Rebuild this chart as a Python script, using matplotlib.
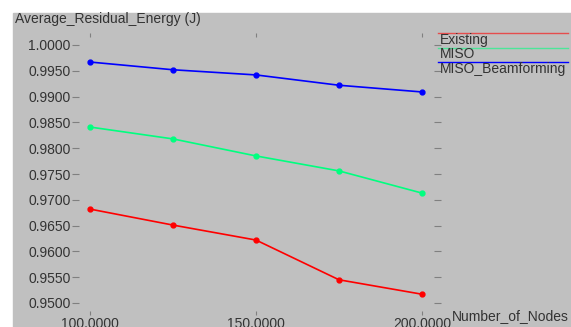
import matplotlib.pyplot as plt
from matplotlib.patches import Rectangle

plt.rcParams['font.family'] = ['Liberation Sans', 'DejaVu Sans']

nodes = [100, 125, 150, 175, 200]
existing = [0.9682, 0.9651, 0.9622, 0.9545, 0.9517]
miso = [0.9841, 0.9818, 0.9785, 0.9756, 0.9713]
miso_bf = [0.9967, 0.9952, 0.9942, 0.9922, 0.9909]

series = [('Existing', existing, '#ff0000'),
          ('MISO', miso, '#00ff7f'),
          ('MISO_Beamforming', miso_bf, '#0000ff')]

yticks = [0.95, 0.955, 0.96, 0.965, 0.97, 0.975, 0.98, 0.985, 0.99, 0.995, 1.0]
xticks = [100, 150, 200]

W, H = 571, 327
fs = 10
fig = plt.figure(figsize=(W / 100, H / 100), dpi=100)
fig.patches.append(Rectangle((13 / W, 0), 1, (H - 13) / H,
                             transform=fig.transFigure, color='#c0c0c0', zorder=-10))

ax = fig.add_axes([90 / W, (H - 303) / H, (422 - 90) / W, (303 - 45) / H])
ax.set_facecolor('none')
for s in ax.spines.values():
    s.set_visible(False)
ax.set_xlim(100, 200)
ax.set_ylim(0.95, 1.0)

txt = '#333333'
tk = '#808080'
for name, vals, col in series:
    ax.plot(nodes, vals, color=col, lw=1.2, marker='o', ms=3.5, clip_on=False)

ax.set_xticks([])
ax.set_yticks([])

# left tick marks and labels, set off from the data area
sec_l = ax.secondary_yaxis(-0.034)
sec_l.spines['left'].set_visible(False)
sec_l.set_yticks(yticks)
sec_l.set_yticklabels(['%.4f' % v for v in yticks])
sec_l.tick_params(direction='out', length=5, width=0.8, color=tk,
                  labelcolor=txt, labelsize=fs, pad=1)

# right-hand tick marks
sec_r = ax.secondary_yaxis(1.036)
sec_r.spines['right'].set_visible(False)
sec_r.set_yticks(yticks)
sec_r.tick_params(direction='out', length=5, width=0.8, color=tk, labelright=False)

# bottom and top x ticks
sec_b = ax.secondary_xaxis(-0.045)
sec_b.spines['bottom'].set_visible(False)
sec_b.set_xticks(xticks)
sec_b.set_xticklabels(['%.4f' % v for v in xticks])
sec_b.tick_params(direction='in', length=3, width=0.8, color=tk,
                  labelcolor=txt, labelsize=fs, pad=2)
sec_t = ax.secondary_xaxis(1.045)
sec_t.spines['top'].set_visible(False)
sec_t.set_xticks(xticks)
sec_t.tick_params(direction='in', length=3, width=0.8, color=tk, labeltop=False)

fig.text(15 / W, 1 - 12 / H, 'Average_Residual_Energy (J)', ha='left', va='top',
         fontsize=fs, color=txt)
fig.text(452 / W, 1 - 320 / H, 'Number_of_Nodes', ha='left', va='baseline',
         fontsize=fs, color=txt)

# legend drawn xgraph style: line above each label
for i, (name, vals, col) in enumerate(series):
    ly = 33 + i * 14.5
    fig.add_artist(plt.Line2D([438 / W, 568 / W], [1 - ly / H, 1 - ly / H],
                              color=col, lw=1, alpha=0.6 if i < 2 else 1))
    fig.text(440 / W, 1 - (ly - 0.3) / H, name, ha='left', va='top', fontsize=fs, color=txt)

fig.savefig('out.png', dpi=100)
